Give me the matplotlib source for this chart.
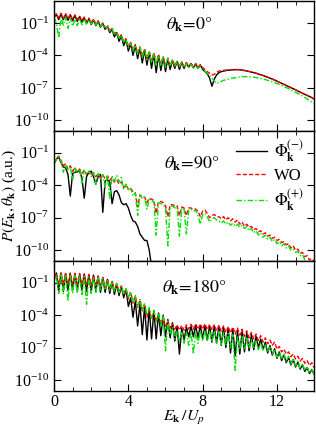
import matplotlib
matplotlib.use('Agg')
import matplotlib.pyplot as plt
import matplotlib.ticker as mticker
import numpy as np

# energy grid E_k / U_p, one point every 1/8 U_p
e_grid = np.linspace(0.0, 14.0, 113)

# log10 P(E_k, theta_k) (8 points per U_p, last point at 14)
# theta_k = 0
p0_minus = [
    -0.5, -0.2, -0.7, -0.15, -0.7, -0.2, -0.75, -0.25,
    -0.8, -0.3, -0.85, -0.4, -0.95, -0.5, -1.05, -0.6,
    -1.15, -0.7, -1.25, -0.85, -1.4, -1.05, -1.6, -1.3,
    -1.9, -1.6, -2.3, -1.9, -2.7, -2.2, -3.1, -2.55,
    -3.6, -2.9, -4.0, -3.1, -4.3, -3.3, -4.7, -3.5,
    -4.9, -3.7, -5.2, -3.85, -5.6, -4.0, -5.4, -4.15,
    -5.5, -4.3, -5.3, -4.45, -5.2, -4.55, -5.3, -4.65,
    -5.2, -4.7, -5.1, -4.75, -5.15, -4.8, -5.2, -4.9,
    -5.3, -5.5, -5.7, -6.1, -6.85, -6.2, -5.8, -5.6,
    -5.5, -5.45, -5.4, -5.37, -5.35, -5.33, -5.32, -5.32,
    -5.33, -5.36, -5.4, -5.44, -5.49, -5.54, -5.59, -5.65,
    -5.72, -5.79, -5.86, -5.94, -6.02, -6.1, -6.19, -6.28,
    -6.38, -6.48, -6.58, -6.68, -6.78, -6.88, -6.98, -7.08,
    -7.18, -7.29, -7.4, -7.5, -7.6, -7.7, -7.8, -7.9,
    -8.05,
]
p0_wo = [
    -0.45, -0.15, -0.55, -0.1, -0.6, -0.15, -0.6, -0.2,
    -0.65, -0.25, -0.7, -0.35, -0.8, -0.45, -0.9, -0.55,
    -1.0, -0.65, -1.1, -0.8, -1.25, -1.0, -1.45, -1.25,
    -1.7, -1.5, -2.0, -1.8, -2.4, -2.1, -2.75, -2.45,
    -3.15, -2.8, -3.5, -3.0, -3.8, -3.2, -4.1, -3.4,
    -4.3, -3.6, -4.5, -3.75, -4.7, -3.9, -4.8, -4.1,
    -4.9, -4.25, -4.95, -4.4, -5.0, -4.5, -5.05, -4.6,
    -5.05, -4.65, -5.05, -4.7, -5.1, -4.75, -5.1, -4.85,
    -5.1, -5.3, -5.5, -5.65, -5.8, -5.75, -5.55, -5.45,
    -5.4, -5.38, -5.36, -5.34, -5.32, -5.31, -5.3, -5.3,
    -5.32, -5.35, -5.39, -5.43, -5.48, -5.53, -5.58, -5.64,
    -5.71, -5.78, -5.85, -5.93, -6.01, -6.09, -6.18, -6.27,
    -6.37, -6.47, -6.57, -6.67, -6.77, -6.87, -6.97, -7.07,
    -7.17, -7.28, -7.39, -7.49, -7.59, -7.69, -7.79, -7.89,
    -8.02,
]
p0_plus = [
    -0.5, -1.0, -2.4, -0.5, -1.2, -0.5, -1.5, -0.55,
    -1.3, -0.65, -1.25, -0.6, -1.15, -0.65, -1.1, -0.7,
    -1.1, -0.75, -1.2, -0.85, -1.35, -1.05, -1.5, -1.3,
    -1.75, -1.55, -2.1, -1.85, -2.45, -2.15, -2.8, -2.5,
    -3.3, -2.85, -3.6, -3.05, -3.9, -3.25, -4.2, -3.45,
    -4.4, -3.65, -4.7, -3.85, -5.0, -4.0, -5.0, -4.15,
    -5.1, -4.3, -5.0, -4.45, -5.0, -4.55, -5.05, -4.65,
    -5.1, -4.75, -5.1, -4.8, -5.15, -4.9, -5.2, -5.0,
    -5.3, -5.45, -5.65, -5.85, -6.1, -6.35, -6.6, -6.5,
    -6.4, -6.3, -6.25, -6.2, -6.15, -6.1, -6.07, -6.04,
    -5.98, -5.97, -5.96, -5.96, -5.97, -5.99, -6.01, -6.04,
    -6.08, -6.13, -6.18, -6.24, -6.3, -6.37, -6.44, -6.52,
    -6.6, -6.69, -6.78, -6.87, -6.97, -7.07, -7.17, -7.28,
    -7.4, -7.52, -7.64, -7.76, -7.89, -8.02, -8.15, -8.3,
    -8.45,
]

# theta_k = 90
p90_minus = [
    -2.0, -1.6, -1.4, -1.9, -2.3, -2.4, -3.0, -5.0,
    -2.9, -2.8, -2.75, -2.7, -3.3, -5.2, -3.2, -2.8,
    -2.7, -3.2, -3.9, -3.2, -3.0, -6.5, -3.6, -3.5,
    -3.7, -5.7, -4.6, -4.5, -4.9, -5.6, -5.8, -5.7,
    -6.1, -6.8, -7.3, -7.4, -7.8, -8.5, -8.8, -9.1,
    -9.1, -10.0, -11.5, -13.0,
]
p90_wo = [
    -2.0, -1.55, -1.3, -1.7, -2.2, -2.0, -2.5, -2.2,
    -2.7, -2.4, -2.8, -2.5, -2.9, -2.6, -3.0, -2.7,
    -3.1, -2.85, -3.2, -2.95, -3.3, -3.05, -3.4, -3.15,
    -3.55, -3.3, -3.7, -3.5, -3.9, -3.7, -4.2, -3.95,
    -4.4, -4.3, -4.6, -4.7, -6.0, -4.9, -5.1, -5.1,
    -5.6, -5.2, -5.3, -5.4, -6.6, -5.5, -5.5, -5.6,
    -5.9, -6.9, -5.8, -5.8, -5.9, -5.9, -6.8, -6.0,
    -6.1, -6.8, -6.1, -6.1, -6.2, -6.2, -6.4, -6.9,
    -6.4, -6.3, -6.6, -7.0, -6.8, -6.7, -6.9, -6.9,
    -7.1, -6.9, -7.2, -7.0, -7.3, -7.1, -7.4, -7.2,
    -7.6, -7.4, -7.8, -7.6, -7.9, -7.8, -8.1, -8.0,
    -8.3, -8.2, -8.5, -8.4, -8.7, -8.6, -8.9, -8.8,
    -9.1, -9.0, -9.3, -9.2, -9.5, -9.4, -9.8, -9.6,
    -10.0, -9.9, -10.3, -10.2, -10.6, -10.5, -10.9, -10.8,
    -11.0,
]
p90_plus = [
    -2.0, -1.6, -1.35, -1.8, -2.8, -2.1, -2.6, -2.3,
    -3.5, -2.4, -2.8, -2.5, -3.8, -2.6, -3.0, -2.7,
    -3.2, -2.8, -3.9, -2.9, -3.4, -3.0, -4.2, -3.1,
    -5.3, -3.2, -3.6, -3.1, -3.7, -3.3, -4.4, -3.9,
    -4.4, -4.3, -5.0, -4.7, -6.8, -4.9, -5.2, -5.1,
    -6.2, -5.3, -5.5, -5.5, -8.6, -5.6, -5.7, -5.8,
    -6.1, -9.6, -6.0, -5.9, -6.1, -6.0, -8.7, -6.1,
    -6.2, -8.5, -6.3, -6.2, -6.4, -6.3, -6.8, -7.6,
    -6.7, -6.6, -6.9, -7.4, -7.1, -7.0, -7.2, -7.3,
    -7.5, -7.3, -7.6, -7.4, -7.7, -7.5, -7.8, -7.6,
    -7.9, -7.7, -8.0, -7.8, -8.2, -8.0, -8.4, -8.2,
    -8.6, -8.4, -8.8, -8.6, -9.0, -8.8, -9.2, -9.0,
    -9.4, -9.2, -9.6, -9.4, -9.8, -9.6, -10.0, -9.9,
    -10.2, -10.1, -10.5, -10.4, -10.9, -11.2, -11.8, -12.0,
    -12.0,
]

# theta_k = 180
p180_minus = [
    -0.6, -0.1, -1.8, -0.1, -1.8, -0.15, -1.7, -0.15,
    -1.7, -0.15, -1.7, -0.2, -1.7, -0.2, -1.8, -0.25,
    -1.8, -0.3, -1.8, -0.4, -1.9, -0.55, -1.9, -0.7,
    -2.0, -0.9, -2.1, -1.1, -2.2, -1.35, -2.4, -1.6,
    -3.2, -2.4, -4.2, -2.7, -5.0, -3.0, -5.8, -3.2,
    -6.3, -3.4, -6.2, -3.6, -6.2, -3.8, -5.9, -4.0,
    -6.0, -4.4, -6.1, -4.7, -6.4, -5.0, -7.6, -5.2,
    -6.3, -5.1, -6.0, -5.0, -6.0, -4.95, -6.1, -4.95,
    -6.2, -4.95, -6.3, -5.0, -6.5, -5.0, -6.6, -5.05,
    -6.8, -5.1, -7.0, -5.2, -7.5, -5.3, -7.8, -5.4,
    -7.6, -5.5, -7.4, -5.65, -7.3, -5.8, -7.2, -5.95,
    -7.0, -6.2, -7.2, -6.5, -7.5, -6.8, -7.7, -7.1,
    -8.0, -7.4, -8.2, -7.65, -8.4, -7.9, -8.6, -8.1,
    -8.8, -8.35, -9.0, -8.6, -9.2, -8.85, -9.4, -9.05,
    -9.4,
]
p180_wo = [
    -0.5, -0.1, -1.2, -0.05, -1.2, -0.1, -1.2, -0.1,
    -1.2, -0.15, -1.2, -0.15, -1.2, -0.2, -1.25, -0.25,
    -1.25, -0.3, -1.3, -0.4, -1.4, -0.5, -1.5, -0.65,
    -1.6, -0.85, -1.75, -1.05, -1.9, -1.3, -2.1, -1.55,
    -2.5, -1.85, -2.9, -2.25, -3.3, -2.6, -3.6, -2.95,
    -4.2, -3.5, -4.4, -3.7, -4.6, -3.9, -4.8, -4.2,
    -5.0, -4.5, -5.2, -4.8, -5.3, -4.9, -5.4, -4.95,
    -5.4, -4.9, -5.3, -4.85, -5.3, -4.8, -5.3, -4.8,
    -5.3, -4.8, -5.35, -4.85, -5.4, -4.9, -5.45, -4.95,
    -5.5, -5.0, -5.6, -5.05, -5.65, -5.1, -5.75, -5.2,
    -5.85, -5.3, -5.95, -5.45, -6.1, -5.6, -6.2, -5.75,
    -6.35, -5.9, -6.5, -6.1, -6.65, -6.3, -6.8, -6.5,
    -7.15, -6.9, -7.4, -7.15, -7.6, -7.4, -7.85, -7.6,
    -8.05, -7.8, -8.25, -8.0, -8.45, -8.2, -8.65, -8.4,
    -8.85,
]
p180_plus = [
    -0.8, -0.3, -2.0, -0.2, -2.0, -0.35, -2.7, -0.3,
    -2.0, -0.35, -2.0, -0.4, -2.1, -0.45, -3.0, -0.5,
    -2.0, -0.5, -1.9, -0.55, -1.8, -0.6, -1.7, -0.75,
    -1.7, -0.9, -1.8, -1.05, -1.9, -1.3, -2.1, -1.55,
    -2.4, -1.85, -2.8, -2.2, -3.2, -2.55, -3.6, -2.9,
    -4.0, -3.3, -4.3, -3.55, -4.6, -3.8, -5.0, -4.1,
    -7.3, -4.6, -5.8, -5.1, -6.2, -5.5, -6.4, -5.6,
    -6.6, -5.6, -6.8, -5.55, -7.6, -5.5, -6.6, -5.45,
    -6.4, -5.4, -6.4, -5.4, -6.5, -5.45, -6.6, -5.5,
    -6.7, -5.6, -6.8, -5.7, -7.0, -5.8, -9.1, -5.9,
    -7.2, -6.0, -7.1, -6.1, -7.0, -6.25, -7.1, -6.4,
    -7.2, -6.55, -7.3, -6.75, -7.45, -6.95, -7.6, -7.15,
    -7.9, -7.4, -8.1, -7.6, -8.3, -7.8, -8.5, -8.0,
    -8.7, -8.25, -8.9, -8.5, -9.1, -8.75, -9.35, -9.0,
    -9.6,
]

angles = ['0', '90', '180']
minus_curves = [p0_minus, p90_minus, p180_minus]
wo_curves = [p0_wo, p90_wo, p180_wo]
plus_curves = [p0_plus, p90_plus, p180_plus]
label_pos = [(0.52, 0.82), (0.53, 0.75), (0.54, 0.79)]

plt.rcParams['font.family'] = 'serif'
plt.rcParams['font.serif'] = ['Liberation Serif', 'DejaVu Serif']
plt.rcParams['mathtext.fontset'] = 'stix'
plt.rcParams['font.size'] = 11


def draw(ax, x, logp, **kw):
    ax.plot(x[:len(logp)], 10.0 ** np.asarray(logp), **kw)


fig, axes = plt.subplots(3, 1, sharex=True, figsize=(3.16, 4.30), dpi=100)
fig.subplots_adjust(left=0.171, right=0.994, top=0.997, bottom=0.091, hspace=0)

for i, ax in enumerate(axes):
    draw(ax, e_grid, minus_curves[i], color='black', lw=1.0,
         label=r'$\Phi_{\mathbf{k}}^{(-)}$')
    draw(ax, e_grid, wo_curves[i], color='#ff0000', lw=1.0, ls=(0, (3, 1.5)),
         label='WO')
    draw(ax, e_grid, plus_curves[i], color='#00e000', lw=1.0,
         ls=(0, (4, 1.5, 1, 1.5)), label=r'$\Phi_{\mathbf{k}}^{(+)}$')

    ax.set_yscale('log')
    ax.set_ylim(1e-11, 1e1)
    ax.set_xlim(0, 14)
    ax.yaxis.set_major_locator(mticker.FixedLocator([1e-10, 1e-7, 1e-4, 1e-1]))
    ax.yaxis.set_minor_locator(mticker.NullLocator())
    ax.xaxis.set_major_locator(mticker.MultipleLocator(4))
    ax.xaxis.set_minor_locator(mticker.MultipleLocator(1))
    ax.tick_params(which='both', direction='in', top=True, right=True,
                   labelsize=11.5)
    ax.tick_params(which='major', length=5)
    ax.tick_params(which='minor', length=3)
    ax.tick_params(axis='x', pad=2)
    for sp in ax.spines.values():
        sp.set_linewidth(1.0)

    tx, ty = label_pos[i]
    ax.text(tx, ty, r'$\theta_{\mathbf{k}}\!=\!%s°$' % angles[i],
            transform=ax.transAxes, ha='center', va='center', fontsize=13)

axes[1].set_ylabel(r'$P(E_{\mathbf{k}},\theta_{\mathbf{k}})$ (a.u.)',
                   fontsize=11)
axes[1].yaxis.set_label_coords(-0.14, 0.5)
axes[2].set_xlabel(r'$E_{\mathbf{k}}\,/U_p$', fontsize=11.5, labelpad=-0.5)
axes[1].legend(loc='upper right', bbox_to_anchor=(1.0, 1.02), frameon=False,
               fontsize=12, handlelength=1.9, labelspacing=0.2,
               handletextpad=0.4, borderaxespad=0.2)

fig.savefig('out.png', dpi=100)
